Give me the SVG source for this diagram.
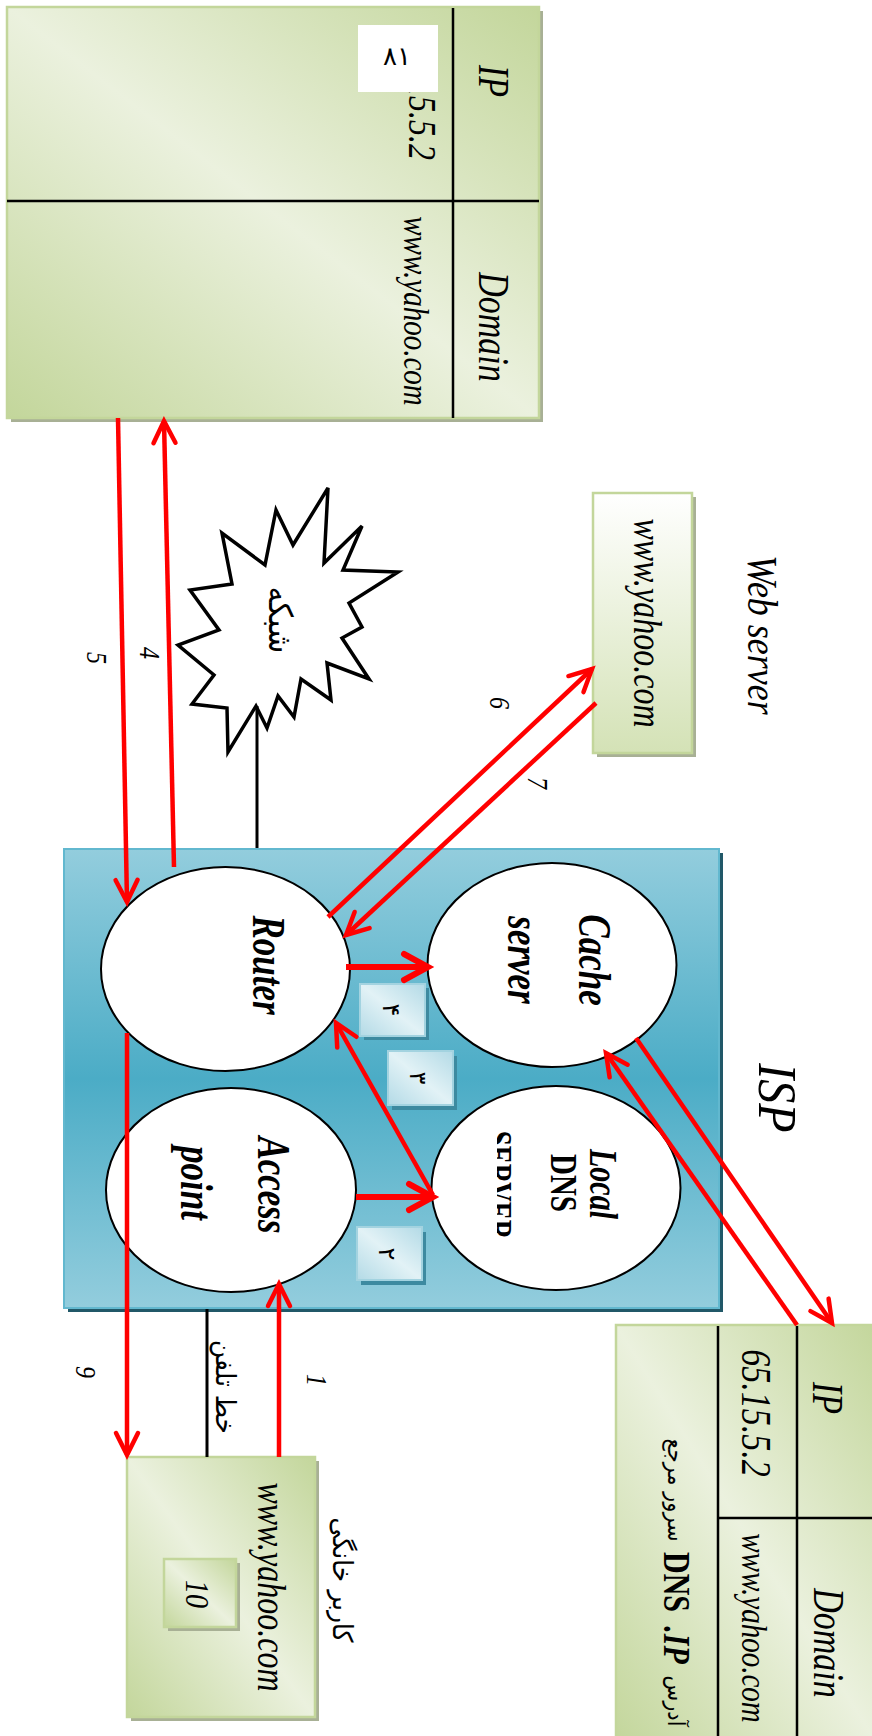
<svg xmlns="http://www.w3.org/2000/svg" width="872" height="1736" viewBox="0 0 872 1736">
<style>
.lat{font-family:"Liberation Serif","Times New Roman",serif;font-style:italic;fill:#000}
.up{font-style:normal}
.b{font-weight:bold}
.fa{font-family:"DejaVu Sans",sans-serif;fill:#000}
.gbox{fill:url(#gGreen);stroke:#c3d69b;stroke-width:2.5}
.gshadow{fill:#a8b095}
.grid{stroke:#000;stroke-width:2.5}
.ell{fill:#fff;stroke:#000;stroke-width:2}
.nbox{fill:url(#gNum);stroke:#a3d3e0;stroke-width:2}
.nshadow{fill:#3d8aa0}
.red{fill:none;stroke:#ff0000;stroke-width:4.5;marker-end:url(#ah)}
.red2{fill:none;stroke:#ff0000;stroke-width:6;marker-end:url(#ah2)}
.blk{fill:none;stroke:#000;stroke-width:3}
</style>
<defs>
<linearGradient id="gGreen" x1="1" y1="0" x2="0" y2="1">
<stop offset="0" stop-color="#c3d69b"/><stop offset="0.5" stop-color="#ebf1de"/><stop offset="1" stop-color="#c3d69b"/>
</linearGradient>
<linearGradient id="gWeb" x1="0" y1="0" x2="0" y2="1">
<stop offset="0" stop-color="#ffffff"/><stop offset="1" stop-color="#d4e2b6"/>
</linearGradient>
<linearGradient id="gISP" x1="0" y1="0" x2="0" y2="1">
<stop offset="0" stop-color="#93cddd"/><stop offset="0.5" stop-color="#4bacc6"/><stop offset="1" stop-color="#93cddd"/>
</linearGradient>
<linearGradient id="gNum" x1="1" y1="0" x2="0" y2="1">
<stop offset="0" stop-color="#b3dae6"/><stop offset="0.5" stop-color="#e2f2f6"/><stop offset="1" stop-color="#b3dae6"/>
</linearGradient>
<marker id="ah" markerUnits="userSpaceOnUse" viewBox="-30 -20 40 40" markerWidth="40" markerHeight="40" refX="0" refY="0" orient="auto" overflow="visible">
<path d="M-22,-11 L0,0 L-22,11" fill="none" stroke="#ff0000" stroke-width="4.5" stroke-linecap="round"/>
</marker>
<marker id="ah2" markerUnits="userSpaceOnUse" viewBox="-30 -20 40 40" markerWidth="40" markerHeight="40" refX="0" refY="0" orient="auto" overflow="visible">
<path d="M-24,-13 L0,0 L-24,13" fill="none" stroke="#ff0000" stroke-width="6" stroke-linecap="round"/>
</marker>
<clipPath id="clipServer"><rect x="497" y="1100" width="120" height="200"/></clipPath>
</defs>

<g id="root-dns-table">
<rect class="gshadow" x="11" y="11" width="532" height="411"/>
<rect class="gbox" x="7" y="7" width="532" height="411"/>
<line class="grid" x1="453" y1="8" x2="453" y2="418"/>
<line class="grid" x1="7" y1="201" x2="539" y2="201"/>
<text class="lat" font-size="34" transform="translate(494,81) rotate(90) scale(1,1.28)" text-anchor="middle" dominant-baseline="central">IP</text>
<text class="lat" font-size="34" transform="translate(494,327) rotate(90) scale(1,1.28)" text-anchor="middle" dominant-baseline="central">Domain</text>
<text class="lat" font-size="32" transform="translate(422,160) rotate(90) scale(1,1.25)" text-anchor="end" dominant-baseline="central">65.15.5.2</text>
<text class="lat" font-size="29" transform="translate(416,311) rotate(90) scale(1,1.25)" text-anchor="middle" dominant-baseline="central">www.yahoo.com</text>
<rect x="358" y="25" width="80" height="67" fill="#fff"/>
<text class="fa" font-size="26" x="397" y="56" text-anchor="middle" dominant-baseline="central">۸۱</text>
</g>

<g id="web-server">
<rect class="gshadow" x="597" y="497" width="99" height="260"/>
<rect x="593" y="493" width="99" height="260" fill="url(#gWeb)" stroke="#c3d69b" stroke-width="2.5"/>
<text class="lat" font-size="32" transform="translate(647,623) rotate(90) scale(1,1.22)" text-anchor="middle" dominant-baseline="central">www.yahoo.com</text>
<text class="lat" font-size="36" transform="translate(762,635) rotate(90) scale(1,1.2)" text-anchor="middle" dominant-baseline="central">Web server</text>
</g>

<g id="network">
<polygon points="328,488 324,563 362,526 343,570 398,572 349,603 362,627 342,638 369,679 327,663 331,700 301,679 294,717 278,696 267,728 256,706 228,752 227,708 192,704 214,675 178,645 219,630 190,590 232,584 222,533 265,565 276,510 293,545" fill="#fff" stroke="#000" stroke-width="3.5" stroke-linejoin="miter"/>
<text class="fa" font-size="30" transform="translate(281,620) rotate(90) scale(1,1.1)" text-anchor="middle" dominant-baseline="central">شبکه</text>
</g>

<g id="isp">
<rect x="68" y="853" width="655" height="459" fill="#215868"/>
<rect x="64" y="849" width="655" height="459" fill="url(#gISP)" stroke="#62b8cf" stroke-width="2"/>
<text class="lat" font-size="48" transform="translate(778,1098) rotate(90) scale(1,1.15)" text-anchor="middle" dominant-baseline="central">ISP</text>
</g>

<g id="router">
<ellipse class="ell" cx="225.5" cy="969" rx="124.5" ry="102"/>
<text class="lat b" font-size="35" transform="translate(268,965) rotate(90) scale(1,1.3)" text-anchor="middle" dominant-baseline="central">Router</text>
</g>

<g id="cache-server">
<ellipse class="ell" cx="552" cy="965" rx="124.5" ry="102"/>
<text class="lat b" font-size="35" transform="translate(594,960) rotate(90) scale(1,1.3)" text-anchor="middle" dominant-baseline="central">Cache</text>
<text class="lat b" font-size="35" transform="translate(523,960) rotate(90) scale(1,1.3)" text-anchor="middle" dominant-baseline="central">server</text>
</g>

<g id="access-point">
<ellipse class="ell" cx="231" cy="1190" rx="125" ry="102"/>
<text class="lat b" font-size="35" transform="translate(273,1185) rotate(90) scale(1,1.3)" text-anchor="middle" dominant-baseline="central">Access</text>
<text class="lat b" font-size="35" transform="translate(196,1183) rotate(90) scale(1,1.3)" text-anchor="middle" dominant-baseline="central">point</text>
</g>

<g id="local-dns">
<ellipse class="ell" cx="556" cy="1188" rx="124.5" ry="102"/>
<text class="lat b" font-size="30" transform="translate(603,1184) rotate(90) scale(1,1.3)" text-anchor="middle" dominant-baseline="central">Local</text>
<text class="lat up b" font-size="29" transform="translate(564,1183) rotate(90) scale(1,1.3)" text-anchor="middle" dominant-baseline="central">DNS</text>
<g clip-path="url(#clipServer)">
<text class="lat up b" font-size="27" transform="translate(487,1185) rotate(90) scale(1,1.3)" text-anchor="middle">SERVER</text>
</g>
</g>

<g id="step-boxes">
<rect class="nshadow" x="364" y="988" width="65" height="52"/>
<rect class="nbox" x="360" y="984" width="65" height="52"/>
<text class="fa" font-size="24" transform="translate(391,1010) rotate(90)" text-anchor="middle" dominant-baseline="central">۴</text>
<rect class="nshadow" x="392" y="1056" width="65" height="54"/>
<rect class="nbox" x="388" y="1051" width="65" height="54"/>
<text class="fa" font-size="24" transform="translate(418,1078) rotate(90)" text-anchor="middle" dominant-baseline="central">۳</text>
<rect class="nshadow" x="361" y="1232" width="65" height="53"/>
<rect class="nbox" x="357" y="1227" width="65" height="53"/>
<text class="fa" font-size="24" transform="translate(387,1254) rotate(90)" text-anchor="middle" dominant-baseline="central">۲</text>
</g>

<g id="home-user">
<rect class="gshadow" x="131" y="1461" width="188" height="260"/>
<rect class="gbox" x="127" y="1457" width="188" height="260"/>
<text class="lat" font-size="32" transform="translate(271,1587) rotate(90) scale(1,1.22)" text-anchor="middle" dominant-baseline="central">www.yahoo.com</text>
<rect class="gshadow" x="168" y="1563" width="72" height="68"/>
<rect class="gbox" x="164" y="1559" width="72" height="68"/>
<text class="lat" font-size="28" transform="translate(197,1594) rotate(90) scale(1,1.2)" text-anchor="middle" dominant-baseline="central">10</text>
<text class="fa" font-size="25" transform="translate(342,1580) rotate(90) scale(1,1.1)" text-anchor="middle" dominant-baseline="central">کاربر خانگی</text>
</g>

<g id="reference-dns-table">
<rect class="gbox" x="616" y="1325" width="262" height="420"/>
<line class="grid" x1="718" y1="1326" x2="718" y2="1736"/>
<line class="grid" x1="797" y1="1326" x2="797" y2="1736"/>
<line class="grid" x1="718" y1="1518" x2="872" y2="1518"/>
<text class="lat" font-size="34" transform="translate(828,1398) rotate(90) scale(1,1.28)" text-anchor="middle" dominant-baseline="central">IP</text>
<text class="lat" font-size="34" transform="translate(829,1643) rotate(90) scale(1,1.28)" text-anchor="middle" dominant-baseline="central">Domain</text>
<text class="lat" font-size="34" transform="translate(756,1413) rotate(90) scale(1,1.25)" text-anchor="middle" dominant-baseline="central">65.15.5.2</text>
<text class="lat" font-size="29" transform="translate(754,1628) rotate(90) scale(1,1.25)" text-anchor="middle" dominant-baseline="central">www.yahoo.com</text>
<text class="fa" font-size="21" transform="translate(676,1490) rotate(90) scale(1,1.1)" text-anchor="middle" dominant-baseline="central">سرور مرجع</text>
<text class="lat up b" font-size="30" transform="translate(677,1582) rotate(90) scale(1,1.25)" text-anchor="middle" dominant-baseline="central">DNS</text>
<text class="lat b" font-size="30" transform="translate(677,1645) rotate(90) scale(1,1.25)" text-anchor="middle" dominant-baseline="central">.IP</text>
<text class="fa" font-size="21" transform="translate(676,1701) rotate(90) scale(1,1.1)" text-anchor="middle" dominant-baseline="central">آدرس</text>
</g>

<g id="connectors">
<line class="blk" x1="257" y1="706" x2="257" y2="848"/>
<line class="blk" x1="207" y1="1309" x2="207" y2="1457"/>
<line class="red" x1="118" y1="418" x2="127" y2="902"/>
<line class="red" x1="174" y1="867" x2="164" y2="421"/>
<line class="red" x1="328" y1="917" x2="592" y2="669"/>
<line class="red" x1="596" y1="703" x2="346" y2="935"/>
<line class="red2" x1="346" y1="967" x2="428" y2="967"/>
<line class="red2" x1="356" y1="1197" x2="433" y2="1197"/>
<line class="red" x1="433" y1="1195" x2="336" y2="1023"/>
<line class="red" x1="636" y1="1038" x2="832" y2="1323"/>
<line class="red" x1="797" y1="1325" x2="606" y2="1053"/>
<line class="red" x1="127" y1="1033" x2="127" y2="1455"/>
<line class="red" x1="279" y1="1457" x2="279" y2="1284"/>
</g>

<g id="labels">
<text class="lat" font-size="24" transform="translate(97,658) rotate(90) scale(1,1.2)" text-anchor="middle" dominant-baseline="central">5</text>
<text class="lat" font-size="24" transform="translate(150,653) rotate(90) scale(1,1.2)" text-anchor="middle" dominant-baseline="central">4</text>
<text class="lat" font-size="24" transform="translate(500,703) rotate(90) scale(1,1.2)" text-anchor="middle" dominant-baseline="central">6</text>
<text class="lat" font-size="24" transform="translate(538,783) rotate(90) scale(1,1.2)" text-anchor="middle" dominant-baseline="central">7</text>
<text class="lat" font-size="24" transform="translate(317,1380) rotate(90) scale(1,1.2)" text-anchor="middle" dominant-baseline="central">1</text>
<text class="lat" font-size="24" transform="translate(86,1372) rotate(90) scale(1,1.2)" text-anchor="middle" dominant-baseline="central">9</text>
<text class="fa" font-size="25" transform="translate(225,1387) rotate(90) scale(1,1.1)" text-anchor="middle" dominant-baseline="central">خط تلفن</text>
</g>
</svg>
